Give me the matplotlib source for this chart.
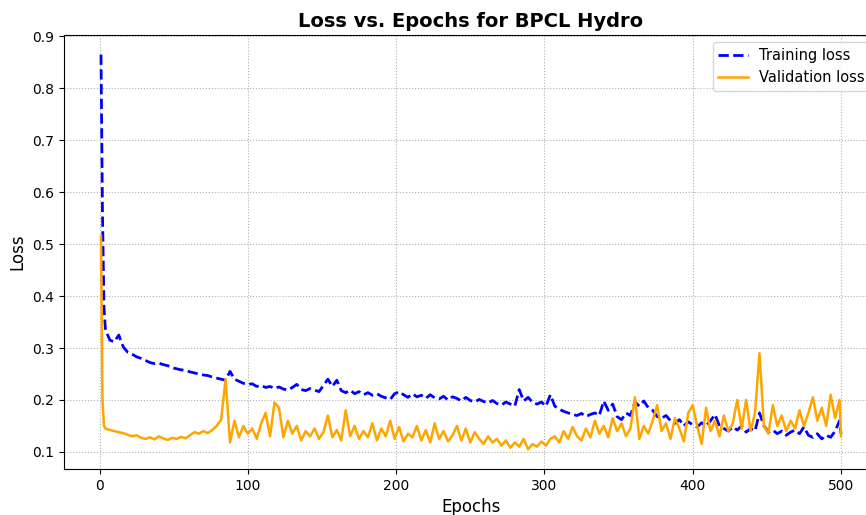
import matplotlib
matplotlib.use("Agg")
import matplotlib.pyplot as plt

# first epochs one by one, then every 3, plus the final epoch
epochs = [1, 2, 3] + list(range(4, 500, 3)) + [500]

training_loss = [
    0.865, 0.56, 0.38,
    0.335, 0.315, 0.312, 0.325, 0.302, 0.292, 0.288, 0.283, 0.280,
    0.276, 0.272, 0.270, 0.271, 0.268, 0.266, 0.262, 0.260, 0.258, 0.257,
    0.254, 0.252, 0.250, 0.248, 0.247, 0.244, 0.242, 0.240, 0.238, 0.255,
    0.240, 0.236, 0.232, 0.230, 0.231, 0.226, 0.228, 0.224, 0.226, 0.222,
    0.225, 0.221, 0.219, 0.224, 0.230, 0.220, 0.218, 0.222, 0.219, 0.216,
    0.228, 0.240, 0.226, 0.238, 0.218, 0.214, 0.219, 0.212, 0.216, 0.210,
    0.214, 0.209, 0.212, 0.207, 0.204, 0.201, 0.212, 0.216, 0.210, 0.205,
    0.212, 0.206, 0.209, 0.203, 0.210, 0.204, 0.202, 0.207, 0.200, 0.206,
    0.203, 0.198, 0.205, 0.199, 0.196, 0.201, 0.197, 0.194, 0.199, 0.193,
    0.190, 0.196, 0.192, 0.188, 0.220, 0.198, 0.205, 0.195, 0.192, 0.196,
    0.188, 0.210, 0.188, 0.182, 0.178, 0.175, 0.172, 0.170, 0.174, 0.168,
    0.172, 0.175, 0.170, 0.198, 0.180, 0.192, 0.168, 0.162, 0.175, 0.170,
    0.196, 0.188, 0.198, 0.185, 0.180, 0.168, 0.165, 0.170, 0.160, 0.155,
    0.162, 0.150, 0.158, 0.152, 0.148, 0.156, 0.150, 0.160, 0.172, 0.150,
    0.145, 0.140, 0.148, 0.142, 0.150, 0.138, 0.145, 0.140, 0.175, 0.150,
    0.138, 0.142, 0.135, 0.140, 0.132, 0.138, 0.142, 0.135, 0.148, 0.132,
    0.128, 0.135, 0.125, 0.132, 0.128, 0.140, 0.160, 0.135,
]

validation_loss = [
    0.515, 0.20, 0.150,
    0.145, 0.142, 0.140, 0.138, 0.136, 0.133, 0.130, 0.132, 0.127,
    0.125, 0.128, 0.124, 0.130, 0.126, 0.123, 0.127, 0.125, 0.129, 0.126,
    0.132, 0.138, 0.135, 0.140, 0.136, 0.142, 0.150, 0.162, 0.240, 0.118,
    0.160, 0.128, 0.150, 0.135, 0.145, 0.125, 0.155, 0.175, 0.130, 0.195,
    0.185, 0.128, 0.160, 0.135, 0.150, 0.122, 0.140, 0.130, 0.145, 0.125,
    0.138, 0.170, 0.128, 0.142, 0.122, 0.180, 0.130, 0.150, 0.125, 0.140,
    0.128, 0.155, 0.122, 0.145, 0.130, 0.160, 0.125, 0.148, 0.120, 0.135,
    0.128, 0.150, 0.122, 0.142, 0.118, 0.155, 0.125, 0.140, 0.120, 0.132,
    0.150, 0.122, 0.145, 0.118, 0.138, 0.125, 0.115, 0.130, 0.118, 0.125,
    0.112, 0.122, 0.108, 0.118, 0.110, 0.125, 0.105, 0.115, 0.110, 0.120,
    0.112, 0.125, 0.130, 0.118, 0.140, 0.125, 0.148, 0.130, 0.122, 0.145,
    0.128, 0.160, 0.135, 0.150, 0.128, 0.165, 0.140, 0.155, 0.130, 0.145,
    0.205, 0.125, 0.150, 0.135, 0.160, 0.190, 0.140, 0.155, 0.125, 0.165,
    0.145, 0.120, 0.175, 0.190, 0.150, 0.115, 0.185, 0.140, 0.160, 0.130,
    0.170, 0.140, 0.155, 0.200, 0.145, 0.200, 0.140, 0.175, 0.290, 0.150,
    0.135, 0.190, 0.150, 0.170, 0.140, 0.160, 0.145, 0.180, 0.150, 0.175,
    0.205, 0.160, 0.185, 0.150, 0.210, 0.165, 0.200, 0.130,
]

fig = plt.figure(figsize=(8.66, 5.15), dpi=100)
# axes run past the right edge, as in the cropped original
ax = fig.add_axes([0.0739, 0.0893, 0.940, 0.843])

ax.plot(epochs, training_loss, "--", color="blue", lw=2, label="Training loss")
ax.plot(epochs, validation_loss, "-", color="orange", lw=1.8, label="Validation loss")

ax.set_title("Loss vs. Epochs for BPCL Hydro", fontsize=14, fontweight="bold")
ax.set_xlabel("Epochs", fontsize=12)
ax.set_ylabel("Loss", fontsize=12)
ax.tick_params(labelsize=10)
ax.grid(True, linestyle=":", linewidth=0.8, color="#b0b0b0")
ax.legend(loc="upper right", fontsize=10.5)

fig.savefig("out.png", dpi=100)
